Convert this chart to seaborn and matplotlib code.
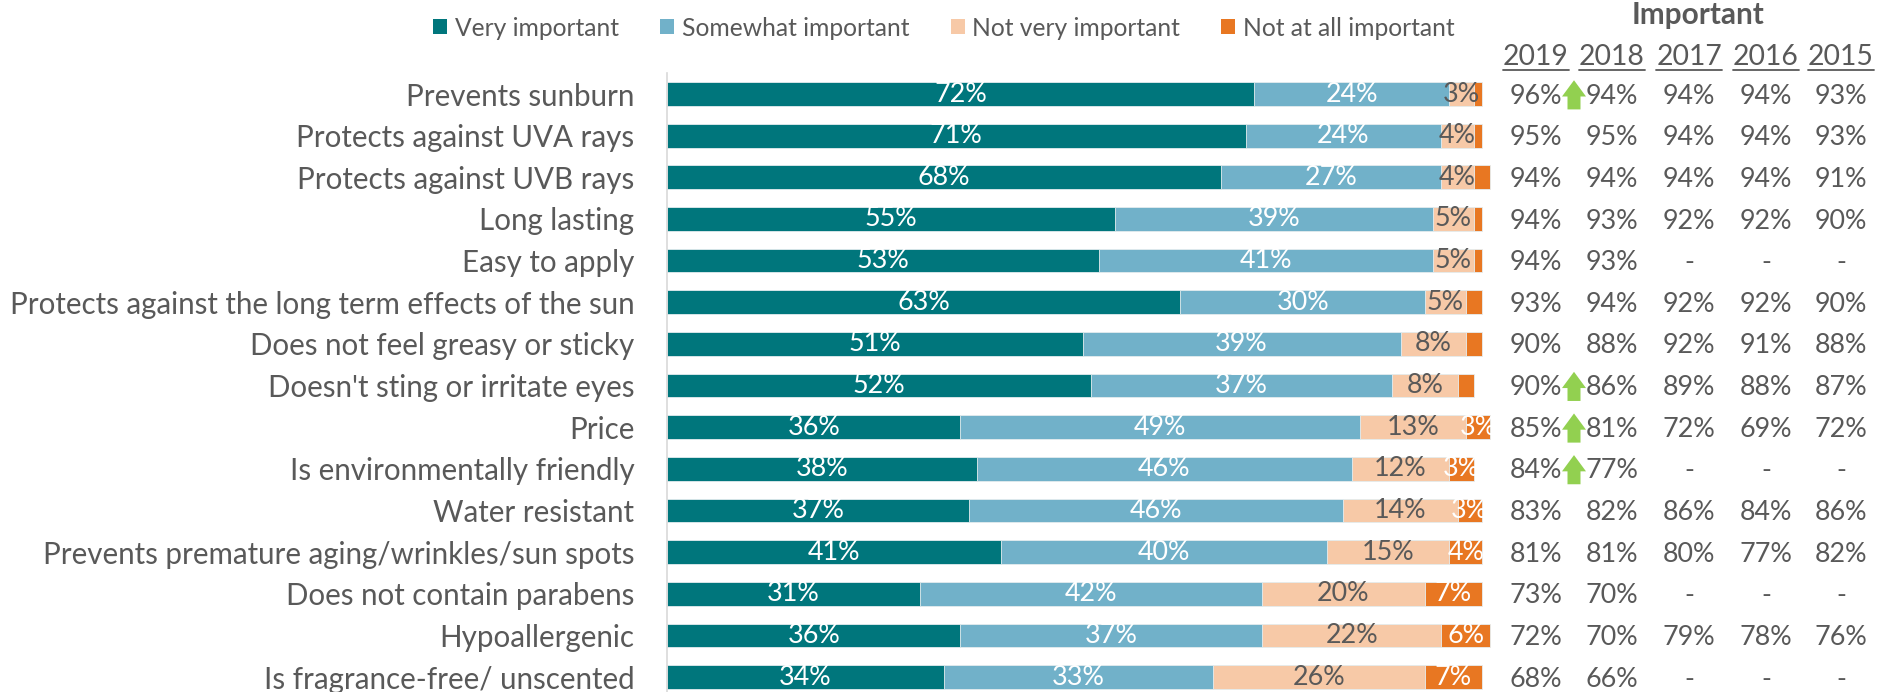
import numpy as np
import pandas as pd
import seaborn as sns
import matplotlib
matplotlib.use("Agg")
import matplotlib.pyplot as plt
from matplotlib.patches import Patch, Polygon
from matplotlib.lines import Line2D
from matplotlib.transforms import blended_transform_factory

# ---------------- data ----------------
categories = [
    "Prevents sunburn",
    "Protects against UVA rays",
    "Protects against UVB rays",
    "Long lasting",
    "Easy to apply",
    "Protects against the long term effects of the sun",
    "Does not feel greasy or sticky",
    "Doesn't sting or irritate eyes",
    "Price",
    "Is environmentally friendly",
    "Water resistant",
    "Prevents premature aging/wrinkles/sun spots",
    "Does not contain parabens",
    "Hypoallergenic",
    "Is fragrance-free/ unscented",
]
very = [72, 71, 68, 55, 53, 63, 51, 52, 36, 38, 37, 41, 31, 36, 34]
somewhat = [24, 24, 27, 39, 41, 30, 39, 37, 49, 46, 46, 40, 42, 37, 33]
not_very = [3, 4, 4, 5, 5, 5, 8, 8, 13, 12, 14, 15, 20, 22, 26]
not_at_all = [1, 1, 2, 1, 1, 2, 2, 2, 3, 3, 3, 4, 7, 6, 7]

series_names = ["Very important", "Somewhat important", "Not very important", "Not at all important"]
series_colors = ["#00767C", "#71B1C9", "#F7C9A7", "#E87722"]
label_colors = ["white", "white", "#595959", "white"]

years = ["2019", "2018", "2017", "2016", "2015"]
imp_2019 = [96, 95, 94, 94, 94, 93, 90, 90, 85, 84, 83, 81, 73, 72, 68]
imp_2018 = [94, 95, 94, 93, 93, 94, 88, 86, 81, 77, 82, 81, 70, 70, 66]
imp_2017 = [94, 94, 94, 92, None, 92, 92, 89, 72, None, 86, 80, None, 79, None]
imp_2016 = [94, 94, 94, 92, None, 92, 91, 88, 69, None, 84, 77, None, 78, None]
imp_2015 = [93, 93, 91, 90, None, 90, 88, 87, 72, None, 86, 82, None, 76, None]
arrow_rows = ["Prevents sunburn", "Doesn't sting or irritate eyes", "Price", "Is environmentally friendly"]

# ---------------- style ----------------
sns.set_theme(style="white")
plt.rcParams["font.family"] = ["Lato", "DejaVu Sans"]
GRAY = "#595959"

W, H = 1877, 692
fig = plt.figure(figsize=(W / 100, H / 100), dpi=100)
renderer = fig.canvas.get_renderer()


def fit(s, target_px, weight="normal"):
    t = fig.text(0, 0, s, fontsize=10, weight=weight)
    w = t.get_window_extent(renderer).width
    t.remove()
    return 10 * target_px / w


fs_cat = fit("Protects against the long term effects of the sun", 625)
fs_val = fit("24%", 53)
fs_leg = fit("Not at all important", 212)
fs_head = fit("Important", 133, weight="bold")
fs_year = fit("2019", 66)

# ---------------- axes layout ----------------
n = len(categories)
row0, step = 94.0, 41.65
x0_px, x100_px = 667, 1482
ax_top = row0 - step / 2
ax_bot = row0 + (n - 0.5) * step
ax = fig.add_axes([x0_px / W, 1 - ax_bot / H, (x100_px - x0_px) / W, (ax_bot - ax_top) / H])

df = pd.DataFrame({"cat": categories, "s0": very, "s1": somewhat, "s2": not_very, "s3": not_at_all})
cols = ["s0", "s1", "s2", "s3"]
cum = df[cols].cumsum(axis=1)
for k in range(3, -1, -1):
    d = pd.DataFrame({"cat": categories, "x": cum[cols[k]]})
    sns.barplot(data=d, x="x", y="cat", orient="h", color=series_colors[k], saturation=1,
                width=0.57, ax=ax, edgecolor="#E6EEF0", linewidth=0.6)
for p in ax.patches:
    p.set_clip_on(False)

ax.set_xlim(0, 100)
ax.set_ylim(n - 0.5, -0.5)
ax.set_xlabel("")
ax.set_ylabel("")
ax.set_xticks([])
ax.tick_params(axis="y", length=0, pad=23.5, labelsize=fs_cat, labelcolor=GRAY)
for s in ["top", "right", "bottom"]:
    ax.spines[s].set_visible(False)
ax.spines["left"].set_color("#D9D9D9")
ax.spines["left"].set_linewidth(1.2)

# segment labels
for i in range(n):
    left = 0
    for k, c in enumerate(cols):
        v = df.loc[i, c]
        if v >= 3:
            ax.text(left + v / 2, i, f"{v}%", ha="center", va="center",
                    color=label_colors[k], fontsize=fs_val, clip_on=False)
        left += v

# ---------------- legend ----------------
fs_px = fs_leg * 100 / 72
handles = [Patch(facecolor=c, edgecolor="none", label=l) for l, c in zip(series_names, series_colors)]
fig.legend(handles=handles, ncol=4, loc="center left", bbox_to_anchor=(433 / W, 1 - 28 / H),
           frameon=False, fontsize=fs_leg, labelcolor=GRAY, handlelength=14 / fs_px,
           handleheight=14 / fs_px, handletextpad=8 / fs_px, columnspacing=41 / fs_px,
           borderpad=0, borderaxespad=0)

# ---------------- table ----------------
trans = blended_transform_factory(fig.transFigure, ax.transData)
col_x = [1536, 1612, 1689, 1766, 1841]
table = [imp_2019, imp_2018, imp_2017, imp_2016, imp_2015]

fig.text(1698 / W, 1 - 15 / H, "Important", ha="center", va="center", fontsize=fs_head,
         weight="bold", color=GRAY)
for cx, yr in zip(col_x, years):
    fig.text(cx / W, 1 - 57 / H, yr, ha="center", va="center", fontsize=fs_year, color=GRAY)
    fig.add_artist(Line2D([(cx - 33) / W, (cx + 33) / W], [1 - 70 / H, 1 - 70 / H],
                          color=GRAY, lw=1.3, transform=fig.transFigure))
for cx, vals in zip(col_x, table):
    for i, v in enumerate(vals):
        s = "-" if v is None else f"{v}%"
        ax.text(cx / W, i + 0.05, s, transform=trans, ha="center", va="center",
                fontsize=fs_val, color=GRAY, clip_on=False)

# green "significant increase" arrows
ax_cx = 1574
for name in arrow_rows:
    r = categories.index(name)
    hw, sw = 12, 6.5
    xs = [ax_cx, ax_cx + hw, ax_cx + sw, ax_cx + sw, ax_cx - sw, ax_cx - sw, ax_cx - hw]
    ys = [r - 0.33, r + 0.06, r + 0.06, r + 0.37, r + 0.37, r + 0.06, r + 0.06]
    poly = Polygon(list(zip([x / W for x in xs], ys)), closed=True, facecolor="#92D050",
                   edgecolor="none", transform=trans, clip_on=False, zorder=5)
    ax.add_patch(poly)

fig.savefig("out.png", dpi=100)
